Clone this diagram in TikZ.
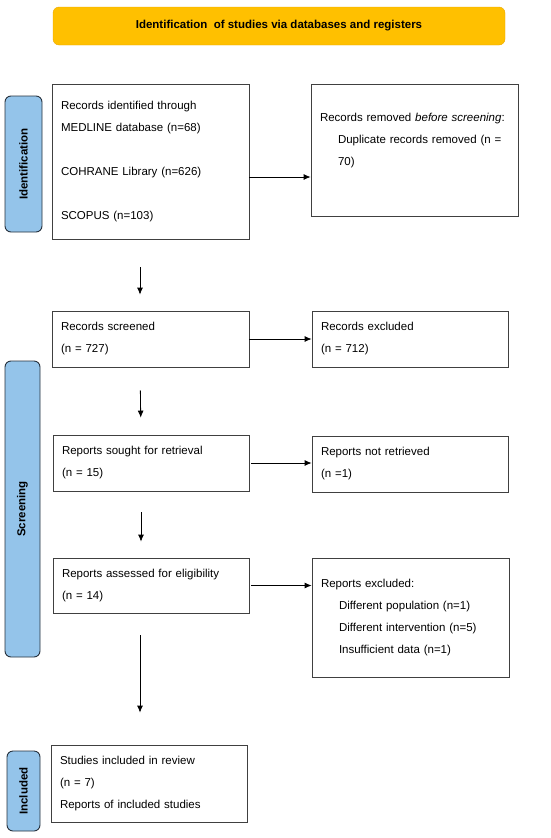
\documentclass[tikz,border=0pt]{standalone}
\usepackage{fontspec}
\setmainfont{Liberation Sans}
\usetikzlibrary{positioning, arrows.meta}
\definecolor{banner}{HTML}{FFC000}
\definecolor{bannerline}{HTML}{EAA800}
\definecolor{phasefill}{HTML}{94C4EA}
\definecolor{phaseline}{HTML}{26313D}
\tikzset{x=1pt, y=-1pt, % Pixel units, y axis pointing down
every node/.style={font=\fontsize{11.5}{22}\selectfont}, % Body text with wide line spacing
box/.style={ % Sets the properties for each record box
draw=black!75, line width=0.8pt,
align=left, inner xsep=9pt, inner ysep=0pt},
phase/.style={ % Blue side labels
draw=phaseline, line width=0.9pt, fill=phasefill,
rounded corners=6pt, rotate=90,
font=\fontsize{11.5}{14}\selectfont\bfseries},
every edge/.style={ % Sets the properties for each arrow
draw,-{Latex[length=7pt,width=6pt]}, % Filled triangular heads
line width=0.8pt}}

\begin{document}
\begin{tikzpicture}
    \useasboundingbox (0,0) rectangle (550,838);

    \node[draw=bannerline, fill=banner, rounded corners=6pt, minimum width=452pt, minimum height=38pt, font=\fontsize{11.5}{14}\selectfont\bfseries] (hd) at (279,26) {Identification\ \ of studies via databases and registers};

    \node[phase, minimum width=136pt, minimum height=37pt] (p1) at (23.5,164) {Identification};
    \node[phase, minimum width=296pt, minimum height=35pt] (p2) at (22.5,509) {Screening};
    \node[phase, minimum width=80pt, minimum height=33pt] (p3) at (23.5,791) {Included};

    \node[box, text width=179pt, minimum height=155pt] (id) at (150.5,161.5) {Records identified through\\ MEDLINE database (n=68)\\[22pt] COHRANE Library (n=626)\\[22pt] SCOPUS (n=103)};
    \node[box, text width=189pt, minimum height=132pt] (rm) at (414.5,150) {Records removed \textit{before screening}:\\ \hspace*{18pt}Duplicate records removed (n =\\ \hspace*{18pt}70)\\ \mbox{}};
    \node[box, text width=179pt, minimum height=56pt] (sc) at (150.5,339) {Records screened\\ (n = 727)};
    \node[box, text width=178pt, minimum height=56pt] (ex) at (410,339) {Records excluded\\ (n = 712)};
    \node[box, text width=178pt, minimum height=56pt] (so) at (151,463) {Reports sought for retrieval\\ (n = 15)};
    \node[box, text width=178pt, minimum height=56pt] (nr) at (410,464) {Reports not retrieved\\ (n =1)};
    \node[box, text width=178pt, minimum height=55pt] (as) at (151,585.5) {Reports assessed for eligibility\\ (n = 14)};
    \node[box, text width=179pt, minimum height=119pt] (re) at (410.5,617.5) {Reports excluded:\\ \hspace*{18pt}Different population (n=1)\\ \hspace*{18pt}Different intervention (n=5)\\ \hspace*{18pt}Insufficient data (n=1)};
    \node[box, text width=178pt, minimum height=77pt] (in) at (149,783.5) {Studies included in review\\ (n = 7)\\ Reports of included studies};

    \coordinate (a1) at ([yshift=-15.5pt]id.east);
    \draw (a1) edge (a1 -| rm.west);
    \draw (sc.east) edge (sc.east -| ex.west);
    \draw (so.east) edge[shorten <=2pt] (so.east -| nr.west);
    \draw (as.east) edge[shorten <=2pt] (as.east -| re.west);

    \draw ([xshift=-10.5pt]id.south) edge[shorten <=28pt, shorten >=16pt] ([xshift=-10.5pt]sc.north);
    \draw ([xshift=-10.5pt]sc.south) edge[shorten <=23pt, shorten >=17pt] ([xshift=-10pt]so.north);
    \draw ([xshift=-10pt]so.south) edge[shorten <=21pt, shorten >=16pt] ([xshift=-10pt]as.north);
    \draw ([xshift=-11pt]as.south) edge[shorten <=22pt, shorten >=32pt] ([xshift=-9pt]in.north);

\end{tikzpicture}
\end{document}
